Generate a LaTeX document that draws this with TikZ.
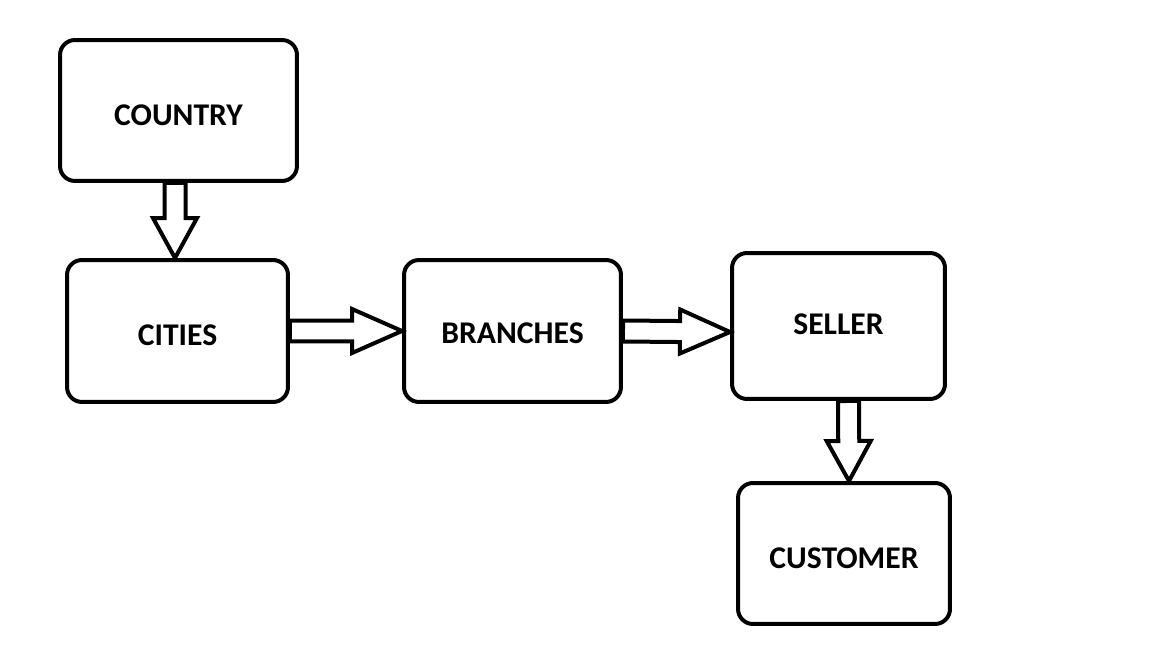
\documentclass[tikz,border=0pt]{standalone}
\usepackage{fontspec}
\setmainfont{Carlito}
\usetikzlibrary{calc}

\begin{document}
\begin{tikzpicture}[x=0.02cm, y=-0.02cm,
	box/.style={draw, line width=0.08cm, rounded corners=0.3cm, font=\fontsize{18}{21}\selectfont\bfseries,
		text height=#1, text depth=0cm},
	box/.default=0.41cm,
	bigarrow/.style={draw, line width=0.08cm, line join=miter, to path={
		($(\tikztostart)!0.21cm!90:(\tikztotarget)$) --
		($(\tikztotarget)!#1!(\tikztostart)!0.21cm!-90:(\tikztostart)$) --
		($(\tikztotarget)!#1!(\tikztostart)!0.44cm!-90:(\tikztostart)$) --
		(\tikztotarget) --
		($(\tikztotarget)!#1!(\tikztostart)!0.44cm!90:(\tikztostart)$) --
		($(\tikztotarget)!#1!(\tikztostart)!0.21cm!90:(\tikztostart)$) --
		($(\tikztostart)!0.21cm!-90:(\tikztotarget)$) -- cycle}}]
	\useasboundingbox (0,0) rectangle (1152,648);
	%
	\node[box=0.59cm, minimum width=4.74cm, minimum height=2.82cm] (country) at (178.5,110.5) {COUNTRY};
	\node[box=0.59cm, minimum width=4.42cm, minimum height=2.84cm] (cities) at (177.5,331) {CITIES};
	\node[box=0.49cm, minimum width=4.34cm, minimum height=2.84cm] (branches) at (512.5,331) {BRANCHES};
	\node[box=0.33cm, minimum width=4.26cm, minimum height=2.92cm] (seller) at (838.5,326) {SELLER};
	\node[box=0.59cm, minimum width=4.24cm, minimum height=2.82cm] (customer) at (844,553.5) {CUSTOMER};
	%
	\draw[bigarrow=0.8cm] ([xshift=-0.07cm]country.south) to ([xshift=-0.05cm]cities.north);
	\draw[bigarrow=1cm] (cities.east) to (branches.west);
	\draw[bigarrow=1cm] (branches.east) to ([yshift=-0.12cm]seller.west);
	\draw[bigarrow=0.8cm] ([xshift=0.2cm]seller.south) to ([xshift=0.1cm]customer.north);
\end{tikzpicture}
\end{document}
